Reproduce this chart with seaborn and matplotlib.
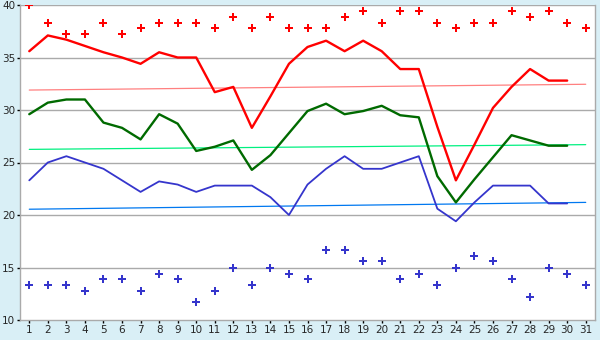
import pandas as pd
import numpy as np
import matplotlib
matplotlib.use("Agg")
import matplotlib.pyplot as plt
import seaborn as sns

days = list(range(1, 32))
days_avg = list(range(1, 31))

# daily extremes (markers)
max_temp = [40.0, 38.3, 37.2, 37.2, 38.3, 37.2, 37.8, 38.3, 38.3, 38.3,
            37.8, 38.9, 37.8, 38.9, 37.8, 37.8, 37.8, 38.9, 39.4, 38.3,
            39.4, 39.4, 38.3, 37.8, 38.3, 38.3, 39.4, 38.9, 39.4, 38.3, 37.8]
min_temp = [13.3, 13.3, 13.3, 12.8, 13.9, 13.9, 12.8, 14.4, 13.9, 11.7,
            12.8, 15.0, 13.3, 15.0, 14.4, 13.9, 16.7, 16.7, 15.6, 15.6,
            13.9, 14.4, 13.3, 15.0, 16.1, 15.6, 13.9, 12.2, 15.0, 14.4, 13.3]

# daily lines
high_line = [35.6, 37.1, 36.7, 36.1, 35.5, 35.0, 34.4, 35.5, 35.0, 35.0,
             31.7, 32.2, 28.3, 31.3, 34.4, 36.0, 36.6, 35.6, 36.6, 35.6,
             33.9, 33.9, 28.4, 23.3, 26.7, 30.2, 32.2, 33.9, 32.8, 32.8]
mean_line = [29.6, 30.7, 31.0, 31.0, 28.8, 28.3, 27.2, 29.6, 28.7, 26.1,
             26.5, 27.1, 24.3, 25.7, 27.8, 29.9, 30.6, 29.6, 29.9, 30.4,
             29.5, 29.3, 23.7, 21.2, 23.4, 25.5, 27.6, 27.1, 26.6, 26.6]
low_line = [23.3, 25.0, 25.6, 25.0, 24.4, 23.3, 22.2, 23.2, 22.9, 22.2,
            22.8, 22.8, 22.8, 21.7, 20.0, 22.9, 24.4, 25.6, 24.4, 24.4,
            25.0, 25.6, 20.6, 19.4, 21.2, 22.8, 22.8, 22.8, 21.1, 21.1]

# normals (thin lines), start and end of month
trend_days = [1, 31]
high_normal = [31.9, 32.45]
mean_normal = [26.25, 26.7]
low_normal = [20.55, 21.2]

bg = "#d9eff6"
grey = "#aaaaaa"

sns.set_style("white")
plt.rcParams["font.family"] = ["DejaVu Sans"]

fig = plt.figure(figsize=(6, 3.4), dpi=100, facecolor=bg)
ax = fig.add_axes([20 / 600, 20 / 340, 575 / 600, 315 / 340])
ax.set_facecolor("white")

df_lines = pd.DataFrame({"day": days_avg, "high": high_line,
                         "mean": mean_line, "low": low_line})
df_pts = pd.DataFrame({"day": days, "max": max_temp, "min": min_temp})
df_norm = pd.DataFrame({"day": trend_days, "high": high_normal,
                        "mean": mean_normal, "low": low_normal})

for y in [15, 20, 25, 30, 35, 40]:
    ax.axhline(y, color=grey, lw=1, zorder=0)

sns.lineplot(data=df_norm, x="day", y="high", ax=ax, color="#ff8080", lw=0.9)
sns.lineplot(data=df_norm, x="day", y="mean", ax=ax, color="#00f080", lw=0.9)
sns.lineplot(data=df_norm, x="day", y="low", ax=ax, color="#0078f0", lw=0.9)

sns.lineplot(data=df_lines, x="day", y="high", ax=ax, color="#ff0000", lw=1.7)
sns.lineplot(data=df_lines, x="day", y="mean", ax=ax, color="#006a00", lw=1.7)
sns.lineplot(data=df_lines, x="day", y="low", ax=ax, color="#3535cc", lw=1.3)

sns.scatterplot(data=df_pts, x="day", y="max", ax=ax, color="#ff0000",
                marker="P", s=26, linewidth=0)
sns.scatterplot(data=df_pts, x="day", y="min", ax=ax, color="#3535cc",
                marker="P", s=26, linewidth=0)

ax.set_xlim(0.5, 31.5)
ax.set_ylim(10, 40)
ax.set_xticks(days)
ax.set_yticks([10, 15, 20, 25, 30, 35, 40])
ax.set_xlabel("")
ax.set_ylabel("")
ax.tick_params(axis="both", labelsize=7.5, length=2.5, width=1, color="black",
               pad=1, direction="out", bottom=True, left=True)
for sp in ax.spines.values():
    sp.set_color(grey)
    sp.set_linewidth(1)
ax.spines["top"].set_visible(False)

fig.savefig("out.png", dpi=100, facecolor=bg)
